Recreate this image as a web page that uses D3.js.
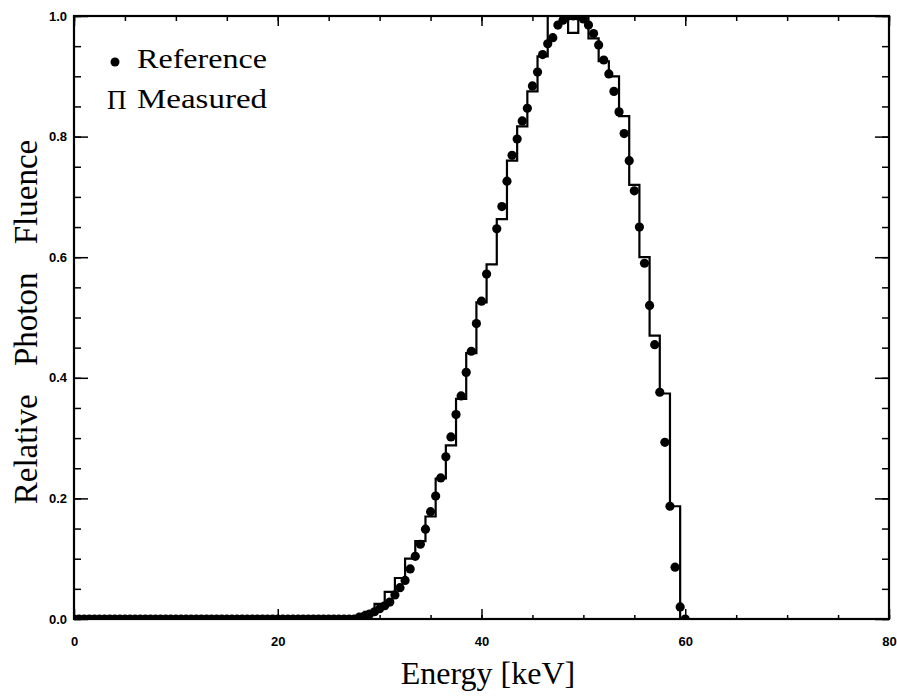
<!DOCTYPE html>
<html>
<head>
<meta charset="utf-8">
<script src="https://d3js.org/d3.v7.min.js"></script>
<style>
  html, body { margin: 0; padding: 0; background: #fff; }
  svg { display: block; }
</style>
</head>
<body>
<div id="chart"></div>
<script>
// Reference spectrum, points every 0.5 keV (null = no marker seen)
const refEnergy = [
  0, 0.5, 1, 1.5, 2, 2.5, 3, 3.5, 4, 4.5, 5, 5.5, 6, 6.5, 7, 7.5, 8, 8.5, 9, 9.5,
  10, 10.5, 11, 11.5, 12, 12.5, 13, 13.5, 14, 14.5, 15, 15.5, 16, 16.5, 17, 17.5, 18, 18.5, 19, 19.5,
  20, 20.5, 21, 21.5, 22, 22.5, 23, 23.5, 24, 24.5, 25, 25.5, 26, 26.5, 27, 27.5, 28, 28.5, 29, 29.5,
  30, 30.5, 31, 31.5, 32, 32.5, 33, 33.5, 34, 34.5, 35, 35.5, 36, 36.5, 37, 37.5, 38, 38.5, 39, 39.5,
  40, 40.5, 41, 41.5, 42, 42.5, 43, 43.5, 44, 44.5, 45, 45.5, 46, 46.5, 47, 47.5, 48, 48.5, 49, 49.5,
  50, 50.5, 51, 51.5, 52, 52.5, 53, 53.5, 54, 54.5, 55, 55.5, 56, 56.5, 57, 57.5, 58, 58.5, 59, 59.5,
  60
];
const refValue = [
  0, 0, 0, 0, 0, 0, 0, 0, 0, 0, 0, 0, 0, 0, 0, 0, 0, 0, 0, 0,
  0, 0, 0, 0, 0, 0, 0, 0, 0, 0, 0, 0, 0, 0, 0, 0, 0, 0, 0, 0,
  0, 0, 0, 0, 0, 0, 0, 0, 0, 0, 0, 0, 0, 0, 0, 0, 0.003, 0.005, 0.008, 0.012,
  0.017, 0.022, 0.028, 0.040, 0.052, 0.064, 0.083, 0.104, 0.124, 0.149, 0.178, 0.204, 0.234, 0.269, 0.302, 0.339, 0.370, 0.409, 0.444, 0.490,
  0.527, 0.572, null, 0.647, 0.684, 0.726, 0.769, 0.796, 0.826, 0.847, 0.884, 0.907, 0.936, 0.954, 0.964, 0.985, 0.993, 1.0, 1.0, 1.0,
  0.995, 0.985, 0.971, 0.952, 0.927, 0.904, 0.875, 0.841, 0.805, 0.76, 0.71, 0.65, 0.59, 0.52, 0.455, 0.376, 0.293, 0.187, 0.086, 0.020,
  0.0
];

// Measured spectrum, 1 keV bins centred on these energies
const binCenter = [
  0, 1, 2, 3, 4, 5, 6, 7, 8, 9, 10, 11, 12, 13, 14, 15, 16, 17, 18, 19,
  20, 21, 22, 23, 24, 25, 26, 27, 28, 29, 30, 31, 32, 33, 34, 35, 36, 37, 38, 39,
  40, 41, 42, 43, 44, 45, 46, 47, 48, 49, 50, 51, 52, 53, 54, 55, 56, 57, 58, 59
];
const binValue = [
  0, 0, 0, 0, 0, 0, 0, 0, 0, 0, 0, 0, 0, 0, 0, 0, 0, 0, 0, 0,
  0, 0, 0, 0, 0, 0, 0, 0.001, 0.005, 0.012, 0.025, 0.045, 0.068, 0.10, 0.129, 0.170, 0.233, 0.288, 0.365, 0.441,
  0.525, 0.588, 0.663, 0.760, 0.817, 0.875, 0.933, 1.02, 1.02, 0.972, 1.0, 0.963, 0.925, 0.90, 0.834, 0.72, 0.60, 0.47, 0.374, 0.187
];

const xTicks = [0, 20, 40, 60, 80];
const yTicks = [0.0, 0.2, 0.4, 0.6, 0.8, 1.0];

const W = 897, H = 698;
const mLeft = 74, mRight = 889, mTop = 16, mBottom = 619;

const svg = d3.select('#chart').append('svg')
  .attr('width', W)
  .attr('height', H);

const x = d3.scaleLinear().domain([0, 80]).range([mLeft, mRight]);
const y = d3.scaleLinear().domain([0, 1]).range([mBottom, mTop]);

svg.append('clipPath').attr('id', 'plot')
  .append('rect')
  .attr('x', mLeft).attr('y', mTop)
  .attr('width', mRight - mLeft).attr('height', mBottom - mTop);

// minor + major ticks, all pointing inward
const xMinor = d3.range(0, 80.1, 5);
const yMinor = d3.range(0, 1.001, 0.05);

const g = svg.append('g');

const tickStyle = sel => sel.selectAll('line').attr('stroke', '#000').attr('stroke-width', 1.5);
const labelStyle = sel => sel.selectAll('text')
  .attr('font-family', 'Liberation Sans, Arial, sans-serif')
  .attr('font-weight', 'bold').attr('font-size', 13).attr('fill', '#000');

g.append('g').attr('transform', `translate(0,${mBottom})`)
  .call(d3.axisBottom(x).tickValues(xMinor).tickSize(-4).tickFormat(''))
  .call(s => s.select('.domain').remove()).call(tickStyle);
g.append('g').attr('transform', `translate(0,${mBottom})`)
  .call(d3.axisBottom(x).tickValues(xTicks).tickSize(-10).tickPadding(18).tickFormat(d3.format('d')))
  .call(s => s.select('.domain').remove()).call(tickStyle).call(labelStyle);
g.append('g').attr('transform', `translate(0,${mTop})`)
  .call(d3.axisTop(x).tickValues(xMinor).tickSize(-5).tickFormat(''))
  .call(s => s.select('.domain').remove()).call(tickStyle);
g.append('g').attr('transform', `translate(0,${mTop})`)
  .call(d3.axisTop(x).tickValues(xTicks).tickSize(-10).tickFormat(''))
  .call(s => s.select('.domain').remove()).call(tickStyle);

g.append('g').attr('transform', `translate(${mLeft},0)`)
  .call(d3.axisLeft(y).tickValues(yMinor).tickSize(-7).tickFormat(''))
  .call(s => s.select('.domain').remove()).call(tickStyle);
g.append('g').attr('transform', `translate(${mLeft},0)`)
  .call(d3.axisLeft(y).tickValues(yTicks).tickSize(-14).tickFormat(d3.format('.1f')))
  .call(s => s.select('.domain').remove()).call(tickStyle).call(labelStyle)
  .call(s => s.selectAll('text').attr('x', -7));
g.append('g').attr('transform', `translate(${mRight},0)`)
  .call(d3.axisRight(y).tickValues(yMinor).tickSize(-7).tickFormat(''))
  .call(s => s.select('.domain').remove()).call(tickStyle);
g.append('g').attr('transform', `translate(${mRight},0)`)
  .call(d3.axisRight(y).tickValues(yTicks).tickSize(-14).tickFormat(''))
  .call(s => s.select('.domain').remove()).call(tickStyle);

// frame
svg.append('rect')
  .attr('x', mLeft).attr('y', mTop)
  .attr('width', mRight - mLeft).attr('height', mBottom - mTop)
  .attr('fill', 'none').attr('stroke', '#000').attr('stroke-width', 2.2);

// measured histogram
const stepPts = binCenter.map((e, i) => [e - 0.5, binValue[i]]);
stepPts.push([binCenter[binCenter.length - 1] + 0.5, 0]);
const stepLine = d3.line()
  .x(d => x(d[0]))
  .y(d => y(d[1]))
  .curve(d3.curveStepAfter);

const plot = svg.append('g').attr('clip-path', 'url(#plot)');
plot.append('path')
  .attr('d', stepLine(stepPts))
  .attr('fill', 'none')
  .attr('stroke', '#000')
  .attr('stroke-width', 2.2);

// reference points
const refPts = refEnergy.map((e, i) => ({ e, v: refValue[i] })).filter(d => d.v !== null);
plot.selectAll('circle.ref')
  .data(refPts)
  .enter()
  .append('circle')
  .attr('class', 'ref')
  .attr('cx', d => x(d.e))
  .attr('cy', d => y(d.v))
  .attr('r', 4.6)
  .attr('fill', '#000');

// legend
const serif = 'Liberation Serif, Times New Roman, serif';
svg.append('circle').attr('cx', 115).attr('cy', 62).attr('r', 4.5).attr('fill', '#000');
svg.append('text').attr('x', 137).attr('y', 68)
  .attr('font-family', serif).attr('font-size', 28)
  .attr('textLength', 130).attr('lengthAdjust', 'spacingAndGlyphs')
  .text('Reference');
svg.append('text').attr('x', 107).attr('y', 109)
  .attr('font-family', serif).attr('font-size', 27)
  .text('Π');
svg.append('text').attr('x', 137).attr('y', 108)
  .attr('font-family', serif).attr('font-size', 28)
  .attr('textLength', 130).attr('lengthAdjust', 'spacingAndGlyphs')
  .text('Measured');

// axis titles
svg.append('text')
  .attr('x', 488).attr('y', 684)
  .attr('text-anchor', 'middle')
  .attr('font-family', serif).attr('font-size', 32)
  .text('Energy [keV]');

svg.append('text')
  .attr('transform', 'translate(37,322) rotate(-90)')
  .attr('text-anchor', 'middle')
  .attr('font-family', serif).attr('font-size', 33)
  .style('word-spacing', '20px')
  .text('Relative Photon Fluence');
</script>
</body>
</html>
